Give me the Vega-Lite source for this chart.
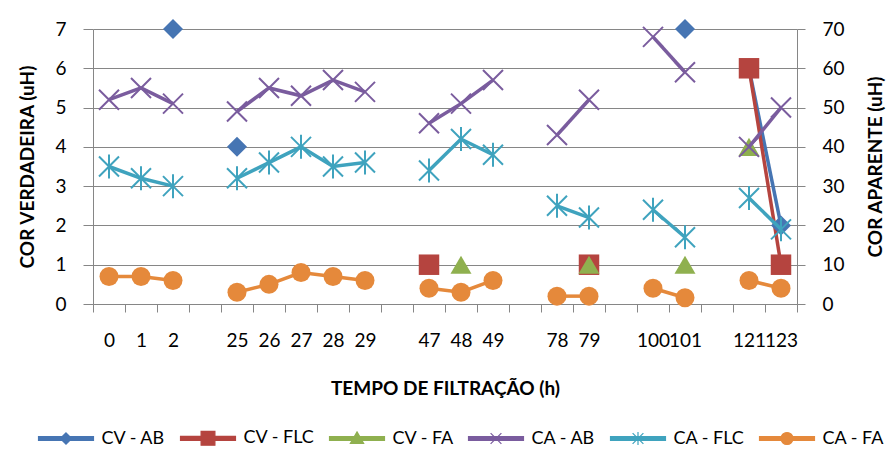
{
  "$schema": "https://vega.github.io/schema/vega-lite/v6.json",
  "width": 704,
  "height": 275,
  "autosize": {"type": "none"},
  "padding": {"left": 93, "top": 29, "right": 99, "bottom": 150},
  "title": {"text": "(c)", "font": "Lato", "fontSize": 20, "fontWeight": "normal", "color": "#000", "offset": 23},
  "data": {
    "values": [
      {"serie": "CV - AB", "eixo": "CV", "hora": "2", "bloco": "A", "valor": 7},
      {"serie": "CV - AB", "eixo": "CV", "hora": "25", "bloco": "B", "valor": 4},
      {"serie": "CV - AB", "eixo": "CV", "hora": "101", "bloco": "E", "valor": 7},
      {"serie": "CV - AB", "eixo": "CV", "hora": "121", "bloco": "F", "valor": 6},
      {"serie": "CV - AB", "eixo": "CV", "hora": "123", "bloco": "F", "valor": 2},
      {"serie": "CV - FLC", "eixo": "CV", "hora": "47", "bloco": "C", "valor": 1},
      {"serie": "CV - FLC", "eixo": "CV", "hora": "79", "bloco": "D", "valor": 1},
      {"serie": "CV - FLC", "eixo": "CV", "hora": "121", "bloco": "F", "valor": 6},
      {"serie": "CV - FLC", "eixo": "CV", "hora": "123", "bloco": "F", "valor": 1},
      {"serie": "CV - FA", "eixo": "CV", "hora": "48", "bloco": "C", "valor": 1},
      {"serie": "CV - FA", "eixo": "CV", "hora": "79", "bloco": "D", "valor": 1},
      {"serie": "CV - FA", "eixo": "CV", "hora": "101", "bloco": "E", "valor": 1},
      {"serie": "CV - FA", "eixo": "CV", "hora": "121", "bloco": "F", "valor": 4},
      {"serie": "CA - AB", "eixo": "CA", "hora": "0", "bloco": "A", "valor": 52},
      {"serie": "CA - AB", "eixo": "CA", "hora": "1", "bloco": "A", "valor": 55},
      {"serie": "CA - AB", "eixo": "CA", "hora": "2", "bloco": "A", "valor": 51},
      {"serie": "CA - AB", "eixo": "CA", "hora": "25", "bloco": "B", "valor": 49},
      {"serie": "CA - AB", "eixo": "CA", "hora": "26", "bloco": "B", "valor": 55},
      {"serie": "CA - AB", "eixo": "CA", "hora": "27", "bloco": "B", "valor": 53},
      {"serie": "CA - AB", "eixo": "CA", "hora": "28", "bloco": "B", "valor": 57},
      {"serie": "CA - AB", "eixo": "CA", "hora": "29", "bloco": "B", "valor": 54},
      {"serie": "CA - AB", "eixo": "CA", "hora": "47", "bloco": "C", "valor": 46},
      {"serie": "CA - AB", "eixo": "CA", "hora": "48", "bloco": "C", "valor": 51},
      {"serie": "CA - AB", "eixo": "CA", "hora": "49", "bloco": "C", "valor": 57},
      {"serie": "CA - AB", "eixo": "CA", "hora": "78", "bloco": "D", "valor": 43},
      {"serie": "CA - AB", "eixo": "CA", "hora": "79", "bloco": "D", "valor": 52},
      {"serie": "CA - AB", "eixo": "CA", "hora": "100", "bloco": "E", "valor": 68},
      {"serie": "CA - AB", "eixo": "CA", "hora": "101", "bloco": "E", "valor": 59},
      {"serie": "CA - AB", "eixo": "CA", "hora": "121", "bloco": "F", "valor": 40},
      {"serie": "CA - AB", "eixo": "CA", "hora": "123", "bloco": "F", "valor": 50},
      {"serie": "CA - FLC", "eixo": "CA", "hora": "0", "bloco": "A", "valor": 35},
      {"serie": "CA - FLC", "eixo": "CA", "hora": "1", "bloco": "A", "valor": 32},
      {"serie": "CA - FLC", "eixo": "CA", "hora": "2", "bloco": "A", "valor": 30},
      {"serie": "CA - FLC", "eixo": "CA", "hora": "25", "bloco": "B", "valor": 32},
      {"serie": "CA - FLC", "eixo": "CA", "hora": "26", "bloco": "B", "valor": 36},
      {"serie": "CA - FLC", "eixo": "CA", "hora": "27", "bloco": "B", "valor": 40},
      {"serie": "CA - FLC", "eixo": "CA", "hora": "28", "bloco": "B", "valor": 35},
      {"serie": "CA - FLC", "eixo": "CA", "hora": "29", "bloco": "B", "valor": 36},
      {"serie": "CA - FLC", "eixo": "CA", "hora": "47", "bloco": "C", "valor": 34},
      {"serie": "CA - FLC", "eixo": "CA", "hora": "48", "bloco": "C", "valor": 42},
      {"serie": "CA - FLC", "eixo": "CA", "hora": "49", "bloco": "C", "valor": 38},
      {"serie": "CA - FLC", "eixo": "CA", "hora": "78", "bloco": "D", "valor": 25},
      {"serie": "CA - FLC", "eixo": "CA", "hora": "79", "bloco": "D", "valor": 22},
      {"serie": "CA - FLC", "eixo": "CA", "hora": "100", "bloco": "E", "valor": 24},
      {"serie": "CA - FLC", "eixo": "CA", "hora": "101", "bloco": "E", "valor": 17},
      {"serie": "CA - FLC", "eixo": "CA", "hora": "121", "bloco": "F", "valor": 27},
      {"serie": "CA - FLC", "eixo": "CA", "hora": "123", "bloco": "F", "valor": 19},
      {"serie": "CA - FA", "eixo": "CA", "hora": "0", "bloco": "A", "valor": 7},
      {"serie": "CA - FA", "eixo": "CA", "hora": "1", "bloco": "A", "valor": 7},
      {"serie": "CA - FA", "eixo": "CA", "hora": "2", "bloco": "A", "valor": 6},
      {"serie": "CA - FA", "eixo": "CA", "hora": "25", "bloco": "B", "valor": 3},
      {"serie": "CA - FA", "eixo": "CA", "hora": "26", "bloco": "B", "valor": 5},
      {"serie": "CA - FA", "eixo": "CA", "hora": "27", "bloco": "B", "valor": 8},
      {"serie": "CA - FA", "eixo": "CA", "hora": "28", "bloco": "B", "valor": 7},
      {"serie": "CA - FA", "eixo": "CA", "hora": "29", "bloco": "B", "valor": 6},
      {"serie": "CA - FA", "eixo": "CA", "hora": "47", "bloco": "C", "valor": 4},
      {"serie": "CA - FA", "eixo": "CA", "hora": "48", "bloco": "C", "valor": 3},
      {"serie": "CA - FA", "eixo": "CA", "hora": "49", "bloco": "C", "valor": 6},
      {"serie": "CA - FA", "eixo": "CA", "hora": "78", "bloco": "D", "valor": 2},
      {"serie": "CA - FA", "eixo": "CA", "hora": "79", "bloco": "D", "valor": 2},
      {"serie": "CA - FA", "eixo": "CA", "hora": "100", "bloco": "E", "valor": 4},
      {"serie": "CA - FA", "eixo": "CA", "hora": "101", "bloco": "E", "valor": 1.6},
      {"serie": "CA - FA", "eixo": "CA", "hora": "121", "bloco": "F", "valor": 6},
      {"serie": "CA - FA", "eixo": "CA", "hora": "123", "bloco": "F", "valor": 4}
    ]
  },
  "encoding": {
    "x": {
      "field": "hora",
      "type": "ordinal",
      "sort": null,
      "bandPosition": 0.5,
      "scale": {
        "type": "band",
        "domain": ["0", "1", "2", "g1", "25", "26", "27", "28", "29", "g2", "47", "48", "49", "g3", "78", "79", "g4", "100", "101", "g5", "121", "123"],
        "paddingInner": 0,
        "paddingOuter": 0
      },
      "axis": {
        "title": "TEMPO DE FILTRAÇÃO (h)",
        "labelExpr": "indexof(datum.label, 'g') == 0 ? '' : datum.label",
        "tickBand": "extent",
        "labelAngle": 0,
        "labelOverlap": false,
        "tickSize": 8,
        "labelPadding": 19,
        "titlePadding": 29,
        "grid": false
      }
    },
    "color": {
      "field": "serie",
      "type": "nominal",
      "scale": {
        "domain": ["CV - AB", "CV - FLC", "CV - FA", "CA - AB", "CA - FLC", "CA - FA"],
        "range": ["#4675b3", "#b5443f", "#8fb04f", "#7a5c9e", "#3fa3be", "#e5893b"]
      },
      "legend": {
        "title": null,
        "orient": "none",
        "direction": "horizontal",
        "legendX": -36,
        "legendY": 400,
        "columns": 6,
        "labelFont": "Lato",
        "labelFontSize": 18,
        "labelColor": "#000",
        "symbolSize": 144,
        "labelOffset": 26.5,
        "columnPadding": 12,
        "symbolStrokeWidth": 1.2,
        "symbolType": {"expr": "datum.value == 'CV - AB' ? 'M-4.58,-0.33H4.58V0.33H-4.58Z M0,-0.95L0.95,0L0,0.95L-0.95,0Z' : datum.value == 'CV - FLC' ? 'M-4.58,-0.33H4.58V0.33H-4.58Z M-1.15,-1.15H1.15V1.15H-1.15Z' : datum.value == 'CV - FA' ? 'M-4.58,-0.33H4.58V0.33H-4.58Z M0,-1.1L1.1,0.8L-1.1,0.8Z' : datum.value == 'CA - AB' ? 'M-4.58,-0.33H4.58V0.33H-4.58Z M-0.9,-0.9L0.9,0.9M-0.9,0.9L0.9,-0.9' : datum.value == 'CA - FLC' ? 'M-4.58,-0.33H4.58V0.33H-4.58Z M-0.9,-0.9L0.9,0.9M-0.9,0.9L0.9,-0.9M0,-1.1V1.1' : 'M-4.58,-0.33H4.58V0.33H-4.58Z M-1,0A1,1 0 1,1 1,0A1,1 0 1,1 -1,0Z'"},
        "encode": {
          "symbols": {
            "update": {
              "fill": {"scale": "color", "field": "value"},
              "stroke": {"scale": "color", "field": "value"},
              "strokeWidth": {"value": 1.2},
              "opacity": {"value": 1},
              "fillOpacity": {"value": 1},
              "strokeOpacity": {"value": 1}
            }
          }
        }
      }
    }
  },
  "layer": [
    {
      "transform": [{"filter": "datum.eixo == 'CV'"}],
      "encoding": {
        "y": {
          "field": "valor",
          "type": "quantitative",
          "scale": {"domain": [0, 7], "nice": false},
          "axis": {
            "orient": "left",
            "title": "COR VERDADEIRA (uH)",
            "values": [0, 1, 2, 3, 4, 5, 6, 7],
            "grid": true,
            "tickSize": 10,
            "labelPadding": 17,
            "titlePadding": 17
          }
        }
      },
      "layer": [
        {
          "mark": {"type": "line", "strokeWidth": 3.5},
          "encoding": {"detail": {"field": "bloco"}}
        },
        {
          "transform": [{"filter": "datum.serie == 'CV - AB'"}],
          "mark": {"type": "point", "shape": "diamond", "filled": true, "size": 400, "opacity": 1}
        },
        {
          "transform": [{"filter": "datum.serie == 'CV - FLC'"}],
          "mark": {"type": "point", "shape": "square", "filled": true, "size": 420, "opacity": 1}
        },
        {
          "transform": [{"filter": "datum.serie == 'CV - FA'"}],
          "mark": {"type": "point", "shape": "triangle-up", "filled": true, "size": 440, "opacity": 1}
        }
      ]
    },
    {
      "transform": [{"filter": "datum.eixo == 'CA'"}],
      "encoding": {
        "y": {
          "field": "valor",
          "type": "quantitative",
          "scale": {"domain": [0, 70], "nice": false},
          "axis": {
            "orient": "right",
            "title": "COR APARENTE (uH)",
            "titleAngle": 270,
            "values": [0, 10, 20, 30, 40, 50, 60, 70],
            "grid": false,
            "tickSize": 8,
            "labelPadding": 17,
            "titlePadding": 41
          }
        }
      },
      "layer": [
        {
          "mark": {"type": "line", "strokeWidth": 3.5},
          "encoding": {"detail": {"field": "bloco"}}
        },
        {
          "transform": [{"filter": "datum.serie == 'CA - AB'"}],
          "mark": {"type": "point", "shape": "M-1,-1L1,1M-1,1L1,-1", "filled": false, "size": 400, "strokeWidth": 2, "opacity": 1}
        },
        {
          "transform": [{"filter": "datum.serie == 'CA - FLC'"}],
          "mark": {"type": "point", "shape": "M-1,-1L1,1M-1,1L1,-1M0,-1.2L0,1.2", "filled": false, "size": 400, "strokeWidth": 2, "opacity": 1}
        },
        {
          "transform": [{"filter": "datum.serie == 'CA - FA'"}],
          "mark": {"type": "point", "shape": "circle", "filled": true, "size": 361, "opacity": 1}
        }
      ]
    }
  ],
  "resolve": {"scale": {"y": "independent"}},
  "config": {
    "view": {"stroke": null},
    "axis": {
      "labelFont": "Lato",
      "labelFontSize": 19,
      "labelColor": "#000",
      "titleFont": "Lato",
      "titleFontSize": 19,
      "titleFontWeight": "bold",
      "titleColor": "#000",
      "domainColor": "#868686",
      "tickColor": "#868686",
      "gridColor": "#868686",
      "domainWidth": 1,
      "tickWidth": 1,
      "gridWidth": 1
    }
  }
}
